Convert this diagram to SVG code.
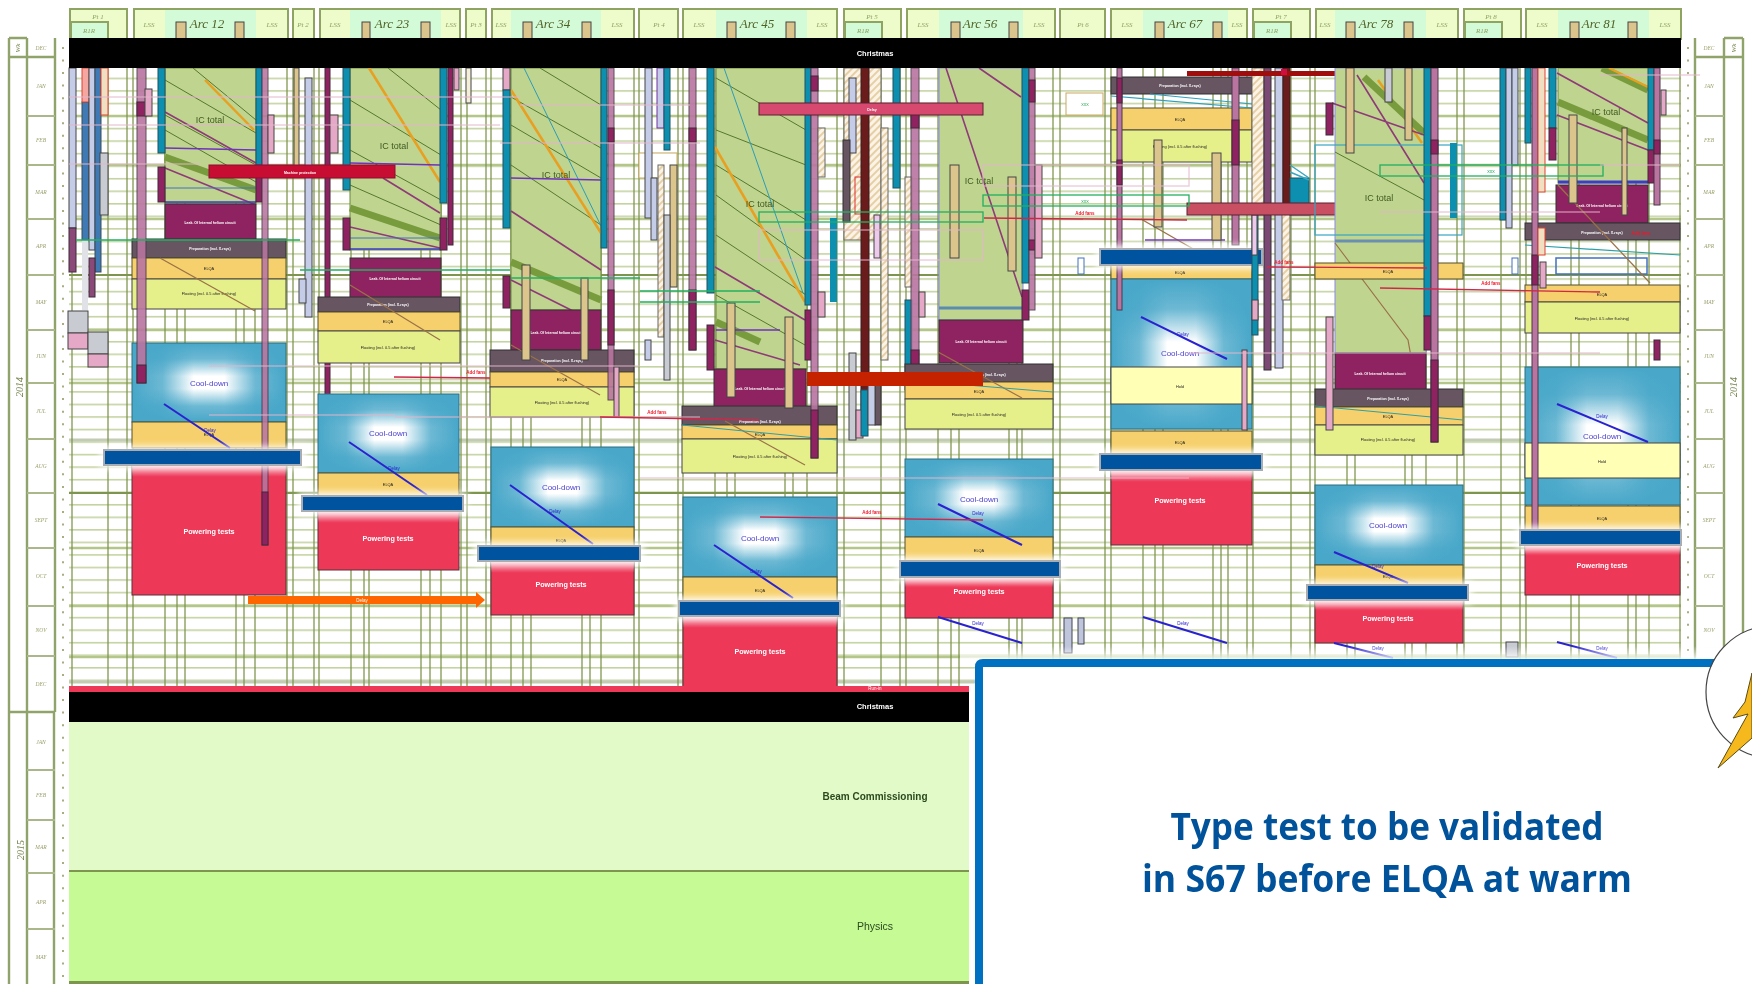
<svg xmlns="http://www.w3.org/2000/svg" width="1752" height="984" viewBox="0 0 1752 984">
<style>
text{font-family:"Liberation Sans",Arial,sans-serif}
.ct{font-family:"Open Sans","Liberation Sans",sans-serif;font-size:37px;font-weight:700;fill:#00529B;text-anchor:middle}
.hd{fill:#EEFBCB;stroke:#8FA363;stroke-width:2}
.ar{fill:#D4FBD8;stroke:none}
.ht{font:italic 7px "Liberation Serif",serif;fill:#8FA363;text-anchor:middle}
.at{font:italic 13px "Liberation Serif",serif;fill:#4F6228;text-anchor:middle}
.mo{font:italic 5.5px "Liberation Serif",serif;fill:#9A9F6A;text-anchor:middle}
.yr{font:italic 10px "Liberation Serif",serif;fill:#6F7F45;text-anchor:middle}
.ic{fill:#BFD48F;stroke:#6B8A3A;stroke-width:1}
.lk{fill:#8F2461;stroke:#333;stroke-width:1}
.pr{fill:#675562;stroke:#333;stroke-width:1}
.qa{fill:#F6D06C;stroke:#55502A;stroke-width:1}
.fl{fill:#E6F08A;stroke:#444;stroke-width:1}
.by{fill:#FFFFB5;stroke:#444;stroke-width:1}
.cb{fill:none;stroke:#2E6E80;stroke-width:1}
.rd{fill:#EE3958;stroke:#5A3038;stroke-width:1}
.bb{fill:#00529F;stroke:#A8ADB4;stroke-width:2}
.gl{fill:#fff;filter:url(#soft);opacity:.85}
.fd{fill:url(#fade)}
.dl{stroke:#2A22D0;stroke-width:2;fill:none}
.g{stroke:#55782E;stroke-width:1;fill:none}
.ob{stroke:#789C3C;stroke-width:7;fill:none}
.or{stroke:#E8A020;stroke-width:2.5;fill:none}
.mr{stroke:#8F3A78;stroke-width:1.6;fill:none}
.pl{stroke:#7030C0;stroke-width:1.5;fill:none}
.bn{stroke:#9A7248;stroke-width:1.2;fill:none}
.tl{stroke:#2C9DB8;stroke-width:1;fill:none}
.te{fill:#0A8FB0;stroke:#24505E;stroke-width:1}
.pu{fill:#8F2461;stroke:#3E2A3A;stroke-width:1}
.pp{fill:#B975A0;stroke:#4A3A48;stroke-width:1}
.la{fill:#C5CCE8;stroke:#444;stroke-width:1}
.be{fill:#DCC58C;stroke:#444;stroke-width:1}
.ha{fill:url(#hatch);stroke:#666;stroke-width:1}
.pk{fill:#E5A9C7;stroke:#444;stroke-width:1}
.gy{fill:#C9CBD3;stroke:#444;stroke-width:1}
.bl{fill:#3F7AB5;stroke:#3A4A5A;stroke-width:1}
.ma{fill:#6B1A1E;stroke:#3A1A1A;stroke-width:1}
.cd{font-size:8px;fill:#4A3FD0;text-anchor:middle}
.pw{font-size:7.2px;font-weight:bold;fill:#fff;text-anchor:middle}
.tq{font-size:3.9px;fill:#222;text-anchor:middle}
.tw{font-size:3.5px;font-weight:bold;fill:#fff;text-anchor:middle}
.tt{font-size:9px;fill:#3F5A1F;text-anchor:middle}
.dt{font-size:4.5px;fill:#2A22D0;text-anchor:middle}
.af{font-size:4.5px;font-weight:bold;fill:#F01828;text-anchor:middle}
.pkl{fill:none;stroke:#E4B7CB;stroke-width:1.5;stroke-opacity:.65}
.grn{fill:none;stroke:#22B060;stroke-width:1.3}
.red{fill:none;stroke:#D0284A;stroke-width:1.3}
.tlb{fill:none;stroke:#38A6C4;stroke-width:1.2}
</style>
<defs>
<pattern id="weeks" patternUnits="userSpaceOnUse" x="0" y="67" width="20" height="12.54"><rect y="10.6" width="20" height="1.6" fill="#C4D3A2"/></pattern>
<pattern id="hatch" patternUnits="userSpaceOnUse" width="5" height="5" patternTransform="rotate(45)"><rect width="5" height="5" fill="#FBF4E6"/><rect width="2" height="5" fill="#E6CFA4"/></pattern>
<linearGradient id="ch"><stop offset="0" stop-color="#48A7C9"/><stop offset=".2" stop-color="#48A7C9" stop-opacity=".8"/><stop offset=".4" stop-color="#48A7C9" stop-opacity="0"/><stop offset=".6" stop-color="#48A7C9" stop-opacity="0"/><stop offset=".8" stop-color="#48A7C9" stop-opacity=".8"/><stop offset="1" stop-color="#48A7C9"/></linearGradient>
<linearGradient id="cv" x2="0" y2="1"><stop offset="0" stop-color="#48A7C9"/><stop offset=".2" stop-color="#48A7C9" stop-opacity=".8"/><stop offset=".42" stop-color="#48A7C9" stop-opacity="0"/><stop offset=".58" stop-color="#48A7C9" stop-opacity="0"/><stop offset=".8" stop-color="#48A7C9" stop-opacity=".8"/><stop offset="1" stop-color="#48A7C9"/></linearGradient>
<linearGradient id="fade" x2="0" y2="1"><stop offset="0" stop-color="#fff" stop-opacity=".6"/><stop offset="1" stop-color="#fff" stop-opacity="0"/></linearGradient>
<linearGradient id="top" x2="0" y2="1"><stop offset="0" stop-color="#fff" stop-opacity="0"/><stop offset="1" stop-color="#fff" stop-opacity=".9"/></linearGradient>
<filter id="soft" x="-10%" y="-60%" width="120%" height="220%"><feGaussianBlur stdDeviation="3"/></filter>
<filter id="fuzz" x="-2%" y="-2%" width="104%" height="104%"><feGaussianBlur stdDeviation=".7"/></filter>
<symbol id="cool" viewBox="0 0 100 100" preserveAspectRatio="none"><rect width="100" height="100" fill="#fff"/><rect width="100" height="100" fill="url(#ch)"/><rect width="100" height="100" fill="url(#cv)"/></symbol>
</defs>
<rect width="1752" height="984" fill="#fff"/>
<g id="chart" filter="url(#fuzz)">
<g id="grid">
<rect x="69" y="68" width="1612" height="620" fill="url(#weeks)"/>
<path d="M69 116H1681M69 165H1681M69 219H1681M69 330H1681M69 383H1681M69 548H1681M69 606H1681M69 657H1681" stroke="#B4C68A" stroke-width="2.4" fill="none"/>
<path d="M69 275H1681M69 493H1681" stroke="#7E9550" stroke-width="1.8" fill="none"/>
<path d="M69 440H1681M69 682H1681" stroke="#C4CBB4" stroke-width="3" fill="none"/>
<path d="M72 68V688M108 68V688M127 68V688M133 68V688M165 68V688M177 68V688M185 68V688M236 68V688M244 68V688M255 68V688M287 68V688M293 68V688M314 68V688M319 68V688M351 68V688M364 68V688M369 68V688M421 68V688M430 68V688M441 68V688M461 68V688M467 68V688M486 68V688M491 68V688M511 68V688M523 68V688M531 68V688M582 68V688M590 68V688M601 68V688M634 68V688M639 68V688M678 68V688M683 68V688M715 68V688M727 68V688M735 68V688M785 68V688M793 68V688M807 68V688M837 68V688M844 68V688M881 68V688M900 68V688M906 68V688M938 68V688M951 68V688M959 68V688M1009 68V688M1017 68V688M1022 68V688M1053 68V688M1060 68V688M1105 68V688M1111 68V688M1143 68V688M1155 68V688M1163 68V688M1213 68V688M1221 68V688M1228 68V688M1247 68V688M1253 68V688M1291 68V688M1310 68V688M1315 68V688M1347 68V688M1355 68V688M1405 68V688M1412 68V688M1426 68V688M1457 68V688M1464 68V688M1501 68V688M1520 68V688M1526 68V688M1571 68V688M1579 68V688M1628 68V688M1636 68V688M1649 68V688M1680 68V688" stroke="#7E9550" stroke-width="1.5" stroke-opacity=".85" fill="none"/>
</g>
<g id="calendar-left">
<path d="M9 38V984M27 38V984M55 38V712M54 712V984M9 38H27M9 57H55M9 712H55" stroke="#8FA36A" stroke-width="2.4" fill="none"/>
<path d="M27 116H55M27 165H55M27 219H55M27 275H55M27 330H55M27 383H55M27 439H55M27 493H55M27 548H55M27 606H55M27 656H55M27 770H55M27 820H55M27 873H55M27 929H55" stroke="#A9B78A" stroke-width="1.8" fill="none"/>
<path d="M63 47V984" stroke="#A9AD80" stroke-width="2" stroke-dasharray="2 10.54" fill="none"/>
<text class="yr" x="18" y="50" transform="rotate(-90 18 48)" style="font-size:7px">Wk</text>
<text class="yr" transform="rotate(-90 20 387)" x="20" y="390">2014</text>
<text class="yr" transform="rotate(-90 21 850)" x="21" y="853">2015</text>
<text class="mo" x="41" y="50">DEC</text><text class="mo" x="41" y="88">JAN</text><text class="mo" x="41" y="142">FEB</text><text class="mo" x="41" y="194">MAR</text><text class="mo" x="41" y="248">APR</text><text class="mo" x="41" y="304">MAY</text><text class="mo" x="41" y="358">JUN</text><text class="mo" x="41" y="413">JUL</text><text class="mo" x="41" y="468">AUG</text><text class="mo" x="41" y="522">SEPT</text><text class="mo" x="41" y="578">OCT</text><text class="mo" x="41" y="632">NOV</text><text class="mo" x="41" y="686">DEC</text><text class="mo" x="41" y="744">JAN</text><text class="mo" x="41" y="797">FEB</text><text class="mo" x="41" y="849">MAR</text><text class="mo" x="41" y="904">APR</text><text class="mo" x="41" y="959">MAY</text>
</g>
<g id="calendar-right">
<path d="M1695 38V660M1724 38V660M1743 38V660M1724 38H1743M1695 57H1743" stroke="#8FA36A" stroke-width="2.4" fill="none"/>
<path d="M1695 116H1724M1695 165H1724M1695 219H1724M1695 275H1724M1695 330H1724M1695 383H1724M1695 439H1724M1695 493H1724M1695 548H1724M1695 606H1724" stroke="#A9B78A" stroke-width="1.8" fill="none"/>
<path d="M1688 47V660" stroke="#A9AD80" stroke-width="2" stroke-dasharray="2 10.54" fill="none"/>
<text class="yr" x="1734" y="50" transform="rotate(-90 1734 48)" style="font-size:7px">Wk</text>
<text class="yr" transform="rotate(-90 1734 387)" x="1734" y="390">2014</text>
<text class="mo" x="1709" y="50">DEC</text><text class="mo" x="1709" y="88">JAN</text><text class="mo" x="1709" y="142">FEB</text><text class="mo" x="1709" y="194">MAR</text><text class="mo" x="1709" y="248">APR</text><text class="mo" x="1709" y="304">MAY</text><text class="mo" x="1709" y="358">JUN</text><text class="mo" x="1709" y="413">JUL</text><text class="mo" x="1709" y="468">AUG</text><text class="mo" x="1709" y="522">SEPT</text><text class="mo" x="1709" y="578">OCT</text><text class="mo" x="1709" y="632">NOV</text>
</g>
<g id="header">
<rect class="hd" x="70" y="9" width="57" height="30"/><rect class="hd" x="71" y="22" width="37" height="17" style="fill:#D4FBD8"/><text class="ht" x="98" y="19">Pt 1</text><text class="ht" x="89" y="33">R1R</text>
<rect class="hd" x="134" y="9" width="154" height="30"/><rect class="ar" x="165" y="10" width="91" height="28"/><text class="ht" x="149" y="27">LSS</text><text class="at" x="207" y="28">Arc 12</text><text class="ht" x="272" y="27">LSS</text><rect class="be" x="176" y="22" width="10" height="17"/><rect class="be" x="235" y="22" width="9" height="17"/>
<rect class="hd" x="293" y="9" width="21" height="30"/><text class="ht" x="303" y="27">Pt 2</text>
<rect class="hd" x="320" y="9" width="140" height="30"/><rect class="ar" x="350" y="10" width="91" height="28"/><text class="ht" x="335" y="27">LSS</text><text class="at" x="392" y="28">Arc 23</text><text class="ht" x="451" y="27">LSS</text><rect class="be" x="362" y="22" width="8" height="17"/><rect class="be" x="421" y="22" width="9" height="17"/>
<rect class="hd" x="466" y="9" width="20" height="30"/><text class="ht" x="476" y="27">Pt 3</text>
<rect class="hd" x="492" y="9" width="142" height="30"/><rect class="ar" x="511" y="10" width="90" height="28"/><text class="ht" x="501" y="27">LSS</text><text class="at" x="553" y="28">Arc 34</text><text class="ht" x="617" y="27">LSS</text><rect class="be" x="523" y="22" width="9" height="17"/><rect class="be" x="582" y="22" width="9" height="17"/>
<rect class="hd" x="639" y="9" width="39" height="30"/><text class="ht" x="659" y="27">Pt 4</text>
<rect class="hd" x="683" y="9" width="154" height="30"/><rect class="ar" x="716" y="10" width="91" height="28"/><text class="ht" x="699" y="27">LSS</text><text class="at" x="757" y="28">Arc 45</text><text class="ht" x="822" y="27">LSS</text><rect class="be" x="727" y="22" width="9" height="17"/><rect class="be" x="786" y="22" width="9" height="17"/>
<rect class="hd" x="844" y="9" width="57" height="30"/><rect class="hd" x="845" y="22" width="37" height="17" style="fill:#D4FBD8"/><text class="ht" x="872" y="19">Pt 5</text><text class="ht" x="863" y="33">R1R</text>
<rect class="hd" x="907" y="9" width="148" height="30"/><rect class="ar" x="939" y="10" width="84" height="28"/><text class="ht" x="923" y="27">LSS</text><text class="at" x="980" y="28">Arc 56</text><text class="ht" x="1039" y="27">LSS</text><rect class="be" x="951" y="22" width="9" height="17"/><rect class="be" x="1009" y="22" width="9" height="17"/>
<rect class="hd" x="1060" y="9" width="45" height="30"/><text class="ht" x="1083" y="27">Pt 6</text>
<rect class="hd" x="1111" y="9" width="136" height="30"/><rect class="ar" x="1143" y="10" width="85" height="28"/><text class="ht" x="1127" y="27">LSS</text><text class="at" x="1185" y="28">Arc 67</text><text class="ht" x="1237" y="27">LSS</text><rect class="be" x="1155" y="22" width="9" height="17"/><rect class="be" x="1213" y="22" width="9" height="17"/>
<rect class="hd" x="1253" y="9" width="57" height="30"/><rect class="hd" x="1254" y="22" width="37" height="17" style="fill:#D4FBD8"/><text class="ht" x="1281" y="19">Pt 7</text><text class="ht" x="1272" y="33">R1R</text>
<rect class="hd" x="1316" y="9" width="142" height="30"/><rect class="ar" x="1335" y="10" width="91" height="28"/><text class="ht" x="1325" y="27">LSS</text><text class="at" x="1376" y="28">Arc 78</text><text class="ht" x="1442" y="27">LSS</text><rect class="be" x="1346" y="22" width="9" height="17"/><rect class="be" x="1404" y="22" width="9" height="17"/>
<rect class="hd" x="1464" y="9" width="57" height="30"/><rect class="hd" x="1465" y="22" width="37" height="17" style="fill:#D4FBD8"/><text class="ht" x="1491" y="19">Pt 8</text><text class="ht" x="1482" y="33">R1R</text>
<rect class="hd" x="1526" y="9" width="155" height="30"/><rect class="ar" x="1558" y="10" width="91" height="28"/><text class="ht" x="1542" y="27">LSS</text><text class="at" x="1599" y="28">Arc 81</text><text class="ht" x="1665" y="27">LSS</text><rect class="be" x="1570" y="22" width="9" height="17"/><rect class="be" x="1628" y="22" width="9" height="17"/>
</g>
<g id="point-1">
<rect class="la" x="69" y="68" width="7" height="160"/><rect class="pu" x="69" y="228" width="7" height="44" style="fill:#8A4A78"/>
<rect class="bl" x="82" y="102" width="7" height="138"/><rect x="82" y="68" width="7" height="34" fill="#F4A7A0" stroke="#E04030"/>
<rect class="la" x="89" y="68" width="6" height="182"/><rect class="bl" x="95" y="68" width="6" height="204"/>
<rect x="101" y="68" width="7" height="47" fill="#F0DFC0" stroke="#E04030"/><rect class="gy" x="100" y="153" width="8" height="62"/>
<rect x="82" y="240" width="6" height="70" fill="#E0E2E8"/><rect class="pu" x="89" y="258" width="6" height="39" style="fill:#8A4A78"/>
<rect class="gy" x="68" y="311" width="20" height="22"/><rect class="pk" x="68" y="333" width="20" height="16"/><rect class="gy" x="88" y="332" width="20" height="22"/><rect class="pk" x="88" y="354" width="20" height="13"/>
</g>
<g id="arc-12">
<rect class="ic" x="165" y="68" width="91" height="135"/>
<path class="g" d="M193 68L256 120M165 80L256 133M165 115L256 165M165 130L256 182"/><path class="or" d="M205 80L254 130"/><path class="mr" d="M165 112L256 163M165 168L256 205"/><path class="ob" d="M165 157L256 190"/><path class="pl" d="M165 148L256 150"/><path d="M165 188H256" stroke="#4070C0" fill="none"/><path d="M165 202H256" stroke="#3C3CC8" stroke-width="1.5"/>
<text class="tt" x="210" y="123">IC total</text>
<rect class="lk" x="165" y="204" width="91" height="36"/><text class="tw" x="210" y="224">Leak. Of Internal helium circuit</text>
<rect class="pr" x="132" y="239" width="154" height="19"/><text class="tw" x="210" y="250">Preparation (incl. X-rays)</text>
<rect class="qa" x="132" y="258" width="154" height="21"/><text class="tq" x="209" y="270">ELQA</text>
<rect class="fl" x="132" y="279" width="154" height="30"/><text class="tq" x="209" y="295">Floating (incl. 0.5 after flushing)</text>
<path class="bn" d="M160 258L255 311"/>
<use href="#cool" x="132" y="343" width="154" height="79"/><rect class="cb" x="132" y="343" width="154" height="79"/><text class="cd" x="209" y="386">Cool-down</text>
<rect class="qa" x="132" y="422" width="154" height="26"/><text class="tq" x="209" y="436">ELQA</text>
<rect class="rd" x="132" y="465" width="154" height="130"/><rect class="fd" x="132" y="465" width="154" height="12"/><text class="pw" x="209" y="534">Powering tests</text>
<path class="dl" d="M164 404L230 448"/><text class="dt" x="210" y="432">Delay</text>
<rect class="pp" x="137" y="68" width="9" height="315" opacity=".9"/><rect class="pu" x="137" y="102" width="9" height="14"/><rect class="pu" x="137" y="365" width="9" height="18"/>
<rect class="pk" x="145" y="89" width="7" height="27"/>
<rect class="te" x="158" y="68" width="7" height="85"/><rect class="pu" x="158" y="167" width="7" height="35"/>
<rect class="te" x="256" y="68" width="6" height="97"/><rect class="pu" x="256" y="167" width="6" height="35"/>
<rect class="pp" x="262" y="68" width="6" height="477" opacity=".88"/><rect class="pu" x="262" y="492" width="6" height="53"/>
<rect class="pk" x="268" y="115" width="6" height="38"/>
<rect class="gl" x="100" y="446" width="206" height="23"/><rect class="bb" x="104" y="450" width="197" height="15"/>
<rect x="248" y="596" width="228" height="8" fill="#FF6600"/><path d="M476 592L485 600L476 608Z" fill="#FF6600"/><text x="362" y="602" font-size="4.5" fill="#fff" text-anchor="middle">Delay</text>
</g>
<g id="point-2">
<rect class="be" x="294" y="68" width="5" height="107"/><rect class="la" x="305" y="78" width="7" height="239"/><rect class="la" x="299" y="279" width="7" height="24"/>
<rect class="pu" x="325" y="68" width="5" height="342"/><rect class="pk" x="330" y="115" width="8" height="38"/>
</g>
<g id="arc-23">
<rect class="ic" x="350" y="68" width="91" height="182"/>
<path class="g" d="M388 68L441 110M350 100L441 155M350 150L441 200M350 185L441 225"/><path class="or" d="M369 68L440 182"/><path class="mr" d="M383 178L440 213M350 227L440 248"/><path class="ob" d="M350 208L440 238"/><path class="pl" d="M350 163L440 165"/><path d="M350 238H441" stroke="#4070C0"/><path d="M350 249H441" stroke="#3C3CC8" stroke-width="1.5"/>
<text class="tt" x="394" y="149">IC total</text>
<rect class="lk" x="350" y="258" width="91" height="40"/><text class="tw" x="395" y="280">Leak. Of Internal helium circuit</text>
<rect class="pr" x="318" y="297" width="142" height="15"/><text class="tw" x="388" y="306">Preparation (incl. X-rays)</text>
<rect class="qa" x="318" y="312" width="142" height="19"/><text class="tq" x="388" y="323">ELQA</text>
<rect class="fl" x="318" y="331" width="142" height="32"/><text class="tq" x="388" y="349">Floating (incl. 0.5 after flushing)</text>
<path class="bn" d="M350 285L440 340"/>
<use href="#cool" x="318" y="394" width="141" height="79"/><rect class="cb" x="318" y="394" width="141" height="79"/><text class="cd" x="388" y="436">Cool-down</text>
<rect class="qa" x="318" y="473" width="141" height="23"/><text class="tq" x="388" y="486">ELQA</text>
<rect class="rd" x="318" y="511" width="141" height="59"/><rect class="fd" x="318" y="511" width="141" height="12"/><text class="pw" x="388" y="541">Powering tests</text>
<path class="dl" d="M349 442L427 495"/><text class="dt" x="394" y="470">Delay</text>
<rect class="te" x="343" y="68" width="7" height="122"/><rect class="pu" x="343" y="218" width="7" height="32"/>
<rect class="te" x="440" y="68" width="7" height="135"/><rect class="pu" x="440" y="218" width="7" height="32"/>
<rect class="pu" x="448" y="68" width="5" height="177"/><rect class="pk" x="454" y="68" width="5" height="22"/>
<rect class="be" x="466" y="68" width="5" height="35" style="fill:#F5EFD8"/>
<rect class="gl" x="298" y="492" width="169" height="23"/><rect class="bb" x="302" y="496" width="161" height="15"/>
</g>
<g id="arc-34">
<rect class="ic" x="511" y="68" width="90" height="242"/>
<path class="g" d="M511 97L601 148M511 125L601 178M511 165L601 225M540 68L601 105"/><path class="or" d="M511 90L601 233"/><path class="tl" d="M524 68L601 226"/><path class="mr" d="M511 211L601 270M511 280L601 325"/><path class="ob" d="M511 262L601 300"/><path class="pl" d="M511 178L601 180"/>
<text class="tt" x="556" y="178">IC total</text>
<rect class="lk" x="511" y="310" width="90" height="40"/><text class="tw" x="556" y="334">Leak. Of Internal helium circuit</text>
<rect class="pr" x="490" y="350" width="144" height="22"/><text class="tw" x="562" y="362">Preparation (incl. X-rays)</text>
<rect class="qa" x="490" y="372" width="144" height="15"/><text class="tq" x="562" y="381">ELQA</text>
<rect class="fl" x="490" y="387" width="144" height="30"/><text class="tq" x="562" y="404">Floating (incl. 0.5 after flushing)</text>
<path class="bn" d="M511 345L600 395"/>
<use href="#cool" x="491" y="447" width="143" height="80"/><rect class="cb" x="491" y="447" width="143" height="80"/><text class="cd" x="561" y="490">Cool-down</text>
<rect class="qa" x="491" y="527" width="143" height="19"/><text class="tq" x="561" y="542">ELQA</text>
<rect class="rd" x="491" y="561" width="143" height="54"/><rect class="fd" x="491" y="561" width="143" height="12"/><text class="pw" x="561" y="587">Powering tests</text>
<path class="dl" d="M510 485L593 544"/><text class="dt" x="555" y="513">Delay</text>
<rect class="pk" x="503" y="68" width="7" height="22"/><rect class="te" x="503" y="90" width="7" height="138"/><rect class="pu" x="503" y="276" width="7" height="32"/>
<rect class="be" x="522" y="265" width="8" height="95"/><rect class="be" x="581" y="278" width="7" height="82"/>
<rect class="te" x="601" y="68" width="6" height="180"/><rect class="pp" x="608" y="68" width="6" height="332" opacity=".9"/><rect class="pu" x="608" y="128" width="6" height="14"/><rect class="pu" x="608" y="290" width="6" height="55"/>
<rect class="pk" x="614" y="367" width="5" height="50"/>
<rect class="gl" x="474" y="542" width="170" height="23"/><rect class="bb" x="478" y="546" width="162" height="15"/>
</g>
<g id="point-4">
<rect x="639" y="153" width="38" height="25" fill="#fff" stroke="#C9A860"/>
<rect class="la" x="645" y="68" width="7" height="150"/><rect class="la" x="651" y="178" width="6" height="62"/><rect class="la" x="657" y="68" width="7" height="60" style="stroke:#7030A0"/><rect class="te" x="664" y="68" width="6" height="82"/>
<rect class="ha" x="658" y="165" width="6" height="172"/><rect class="be" x="670" y="165" width="7" height="122"/><rect class="gy" x="664" y="215" width="6" height="165"/>
<rect class="la" x="645" y="340" width="6" height="20"/>
</g>
<g id="arc-45">
<rect class="ic" x="716" y="68" width="91" height="301"/>
<path class="g" d="M716 78L806 130M716 130L806 165M716 165L806 220M716 195L806 260M716 235L806 295M716 295L805 345"/><path class="or" d="M715 147L805 302"/><path class="tl" d="M724 68L803 293"/><path class="mr" d="M715 267L805 320M715 340L800 365"/><path class="ob" d="M716 322L760 342"/><path class="pl" d="M716 330H780"/>
<text class="tt" x="760" y="207">IC total</text>
<rect class="lk" x="714" y="369" width="92" height="40"/><text class="tw" x="760" y="390">Leak. Of Internal helium circuit</text>
<rect class="pr" x="682" y="406" width="155" height="19"/><text class="tw" x="760" y="423">Preparation (incl. X-rays)</text>
<rect class="qa" x="682" y="425" width="155" height="14"/><text class="tq" x="760" y="436">ELQA</text>
<rect class="fl" x="682" y="439" width="155" height="34"/><text class="tq" x="760" y="458">Floating (incl. 0.5 after flushing)</text>
<path class="bn" d="M725 421L805 465"/><path d="M682 425L837 440" stroke="#2CA0A8" fill="none"/>
<use href="#cool" x="683" y="497" width="154" height="80"/><rect class="cb" x="683" y="497" width="154" height="80"/><text class="cd" x="760" y="541">Cool-down</text>
<rect class="qa" x="683" y="577" width="154" height="24"/><text class="tq" x="760" y="592">ELQA</text>
<rect class="rd" x="683" y="616" width="154" height="72"/><rect class="fd" x="683" y="616" width="154" height="12"/><text class="pw" x="760" y="654">Powering tests</text>
<path class="dl" d="M714 545L793 598"/><text class="dt" x="756" y="573">Delay</text>
<rect class="pp" x="689" y="68" width="7" height="282" opacity=".9"/><rect class="pu" x="689" y="128" width="7" height="14"/><rect class="pu" x="689" y="290" width="7" height="60"/>
<rect class="te" x="707" y="68" width="7" height="225"/><rect class="pu" x="707" y="325" width="7" height="45"/>
<rect class="be" x="727" y="303" width="8" height="94"/><rect class="be" x="785" y="317" width="8" height="91"/>
<rect class="te" x="805" y="68" width="6" height="237"/><rect class="pu" x="805" y="310" width="6" height="50"/>
<rect class="pp" x="811" y="68" width="7" height="390" opacity=".9"/><rect class="pu" x="811" y="76" width="7" height="15"/><rect class="pu" x="811" y="410" width="7" height="48"/>
<rect class="ha" x="818" y="128" width="7" height="49"/><rect class="pk" x="818" y="292" width="7" height="25"/>
<rect class="te" x="830" y="218" width="7" height="84" style="stroke:none"/>
<rect class="gl" x="675" y="597" width="169" height="23"/><rect class="bb" x="679" y="601" width="161" height="15"/>
</g>
<g id="point-5">
<rect class="ha" x="844" y="68" width="37" height="172"/>
<rect class="la" x="849" y="78" width="7" height="75"/><rect class="pr" x="843" y="140" width="7" height="82"/>
<rect x="855" y="177" width="7" height="37" fill="none" stroke="#E03030"/>
<rect class="ma" x="861" y="68" width="8" height="350"/>
<rect class="pk" x="874" y="215" width="6" height="43" style="fill:#EDC9EC"/><rect class="ha" x="881" y="128" width="7" height="232"/>
<rect class="te" x="893" y="68" width="7" height="120"/><rect class="ha" x="905" y="177" width="7" height="110"/><rect class="te" x="905" y="300" width="7" height="90"/>
<rect class="gy" x="849" y="353" width="7" height="87"/><rect class="pk" x="856" y="410" width="7" height="28"/><rect class="te" x="861" y="390" width="7" height="46"/><rect class="pr" x="875" y="385" width="6" height="40"/><rect class="la" x="868" y="385" width="7" height="40"/>
<rect class="pp" x="911" y="68" width="8" height="325" opacity=".9"/><rect class="pu" x="911" y="110" width="8" height="18"/><rect class="pu" x="911" y="350" width="8" height="43"/><rect class="pk" x="919" y="292" width="6" height="25"/>
</g>
<g id="arc-56">
<rect class="ic" x="939" y="68" width="84" height="252" style="stroke:#8A8AE0"/>
<path d="M939 308H1023" stroke="#5B8BB0" stroke-width="3"/>
<path class="mr" d="M946 68L1022 297M979 68L1021 97"/>
<text class="tt" x="979" y="184">IC total</text>
<rect class="lk" x="939" y="320" width="84" height="43"/><text class="tw" x="981" y="343">Leak. Of Internal helium circuit</text>
<rect class="pr" x="905" y="364" width="148" height="18"/><text class="tw" x="985" y="376">Preparation (incl. X-rays)</text>
<rect class="qa" x="905" y="382" width="148" height="17"/><text class="tq" x="979" y="393">ELQA</text>
<rect class="fl" x="905" y="399" width="148" height="30"/><text class="tq" x="979" y="416">Floating (incl. 0.5 after flushing)</text>
<path class="bn" d="M938 352L1022 398"/><path d="M905 380L1053 392" stroke="#2CA0A8" fill="none"/>
<use href="#cool" x="905" y="459" width="148" height="78"/><rect class="cb" x="905" y="459" width="148" height="78"/><text class="cd" x="979" y="502">Cool-down</text>
<rect class="qa" x="905" y="537" width="148" height="24"/><text class="tq" x="979" y="552">ELQA</text>
<rect class="rd" x="905" y="577" width="148" height="41"/><rect class="fd" x="905" y="577" width="148" height="10"/><text class="pw" x="979" y="594">Powering tests</text>
<path class="dl" d="M938 504L1022 545M938 617L1022 643"/><text class="dt" x="978" y="515">Delay</text><text class="dt" x="978" y="625">Delay</text>
<rect class="be" x="950" y="165" width="9" height="93"/><rect class="be" x="1008" y="177" width="8" height="94"/>
<rect class="te" x="1022" y="68" width="7" height="215"/><rect class="pu" x="1022" y="290" width="7" height="30"/>
<rect class="pp" x="1029" y="68" width="6" height="242" opacity=".9"/><rect class="pu" x="1029" y="80" width="6" height="22"/><rect class="pu" x="1029" y="240" width="6" height="10"/>
<rect class="pk" x="1035" y="165" width="7" height="93"/>
<rect class="gl" x="896" y="557" width="168" height="24"/><rect class="bb" x="900" y="561" width="160" height="16"/>
</g>
<g id="point-6">
<rect x="1066" y="93" width="37" height="22" fill="#fff" stroke="#C9A860"/><text x="1085" y="106" font-size="5" fill="#3CB060" text-anchor="middle">xxx</text>
<rect x="1078" y="258" width="6" height="16" fill="#fff" stroke="#4070C0"/>
</g>
<g id="arc-67">
<rect class="pr" x="1111" y="77" width="141" height="17"/><text class="tw" x="1180" y="87">Preparation (incl. X-rays)</text>
<rect class="qa" x="1111" y="108" width="141" height="22"/><text class="tq" x="1180" y="121">ELQA</text>
<rect class="fl" x="1111" y="130" width="141" height="32"/><text class="tq" x="1180" y="148">Floating (incl. 0.5 after flushing)</text>
<path d="M1111 96L1252 108M1150 94L1252 104" stroke="#2CA0C0" stroke-width="1.2" fill="none"/><path class="bn" d="M1141 219L1230 270"/><path class="pl" d="M1145 240H1225"/>
<rect class="qa" x="1111" y="265" width="141" height="14"/><text class="tq" x="1180" y="274">ELQA</text>
<use href="#cool" x="1111" y="279" width="141" height="150"/><rect class="cb" x="1111" y="279" width="141" height="150"/><text class="cd" x="1180" y="356">Cool-down</text>
<rect class="by" x="1111" y="367" width="141" height="37"/><text class="tq" x="1180" y="388">Hold</text>
<rect class="qa" x="1111" y="431" width="141" height="24"/><text class="tq" x="1180" y="444">ELQA</text>
<rect class="rd" x="1111" y="470" width="141" height="75"/><rect class="fd" x="1111" y="470" width="141" height="12"/><text class="pw" x="1180" y="503">Powering tests</text>
<path class="dl" d="M1141 317L1227 359M1143 617L1227 643"/><text class="dt" x="1183" y="336">Delay</text><text class="dt" x="1183" y="625">Delay</text>
<rect class="pp" x="1117" y="68" width="5" height="242"/><rect class="pu" x="1117" y="78" width="5" height="25"/><rect class="pu" x="1117" y="160" width="5" height="25"/>
<rect class="be" x="1154" y="140" width="8" height="87"/><rect class="be" x="1212" y="153" width="9" height="87"/>
<rect class="pp" x="1232" y="68" width="7" height="177"/><rect class="pu" x="1232" y="120" width="7" height="45"/>
<rect class="pk" x="1242" y="350" width="5" height="80"/>
<rect class="gl" x="1096" y="245" width="170" height="24"/><rect class="bb" x="1100" y="249" width="162" height="16"/>
<rect class="gl" x="1096" y="450" width="170" height="24"/><rect class="bb" x="1100" y="454" width="162" height="16"/>
</g>
<g id="point-7">
<rect class="ha" x="1252" y="68" width="12" height="147"/><rect class="te" x="1252" y="215" width="6" height="120"/><rect class="pk" x="1252" y="215" width="5" height="40" style="fill:#EDC9EC"/><rect class="pk" x="1252" y="300" width="6" height="20"/>
<rect class="pr" x="1264" y="68" width="7" height="302" style="fill:#7B4A74"/><rect class="la" x="1275" y="68" width="8" height="300"/><rect class="ma" x="1283" y="68" width="7" height="137"/><rect class="ha" x="1282" y="205" width="8" height="95"/>
<rect class="te" x="1290" y="178" width="19" height="37"/><path d="M1290 165L1309 178M1290 172L1309 180" stroke="#38A6C4" stroke-width="1.5" fill="none"/>
<rect x="1187" y="71" width="191" height="5" fill="#A01010"/><rect x="1281" y="69" width="6" height="6" fill="#D01040"/>
<rect x="1187" y="203" width="191" height="12" fill="#C95062" stroke="#5A2030"/>
</g>
<g id="arc-78">
<rect class="ic" x="1335" y="68" width="91" height="285" style="stroke:#8A8AE0"/>
<path class="or" d="M1378 80L1422 143"/><path class="ob" d="M1364 77L1424 133"/><path class="mr" d="M1357 75L1424 183M1332 103L1424 135"/><path class="g" d="M1335 152L1424 200"/><path class="bn" d="M1335 243L1408 340L1425 435"/>
<path d="M1335 241H1426" stroke="#6B8FB0" stroke-width="3"/><path class="pl" d="M1335 266L1426 270"/>
<text class="tt" x="1379" y="201">IC total</text>
<rect class="qa" x="1315" y="263" width="148" height="16"/><text class="tq" x="1388" y="273">ELQA</text>
<rect class="tlb" x="1315" y="145" width="147" height="90"/>
<rect class="lk" x="1335" y="353" width="91" height="38"/><text class="tw" x="1380" y="375">Leak. Of Internal helium circuit</text>
<rect class="pr" x="1315" y="389" width="148" height="18"/><text class="tw" x="1388" y="400">Preparation (incl. X-rays)</text>
<rect class="qa" x="1315" y="407" width="148" height="18"/><text class="tq" x="1388" y="418">ELQA</text>
<rect class="fl" x="1315" y="425" width="148" height="30"/><text class="tq" x="1388" y="441">Floating (incl. 0.5 after flushing)</text>
<path d="M1315 406L1463 420" stroke="#2CA0A8" fill="none"/>
<use href="#cool" x="1315" y="485" width="148" height="80"/><rect class="cb" x="1315" y="485" width="148" height="80"/><text class="cd" x="1388" y="528">Cool-down</text>
<rect class="qa" x="1315" y="565" width="148" height="20"/><text class="tq" x="1388" y="578">ELQA</text>
<rect class="rd" x="1315" y="600" width="148" height="43"/><rect class="fd" x="1315" y="600" width="148" height="10"/><text class="pw" x="1388" y="621">Powering tests</text>
<path class="dl" d="M1334 552L1408 583M1334 643L1393 658"/><text class="dt" x="1378" y="568">Delay</text><text class="dt" x="1378" y="650">Delay</text>
<rect class="pu" x="1326" y="103" width="7" height="32"/><rect class="be" x="1346" y="68" width="8" height="85"/><rect class="be" x="1405" y="68" width="7" height="72"/><rect class="gy" x="1385" y="68" width="7" height="34"/>
<rect class="te" x="1424" y="68" width="7" height="248"/><rect class="pu" x="1424" y="316" width="7" height="34"/>
<rect class="pp" x="1431" y="68" width="7" height="374"/><rect class="pu" x="1431" y="140" width="7" height="14"/><rect class="pu" x="1431" y="360" width="7" height="82"/>
<rect class="pk" x="1326" y="317" width="7" height="113"/>
<rect class="te" x="1450" y="143" width="7" height="75" style="stroke:none"/>
<rect class="gl" x="1303" y="581" width="169" height="23"/><rect class="bb" x="1307" y="585" width="161" height="15"/>
</g>
<g id="point-8">
<rect class="te" x="1500" y="68" width="6" height="152"/><rect class="la" x="1506" y="68" width="6" height="160"/><rect class="la" x="1512" y="68" width="6" height="97"/>
<rect x="1512" y="258" width="6" height="16" fill="#fff" stroke="#4070C0"/><rect class="gy" x="1506" y="642" width="12" height="15"/>
</g>
<g id="arc-81">
<rect class="ic" x="1558" y="68" width="91" height="115"/>
<path class="ob" d="M1558 102L1648 140M1602 68L1648 90"/><path class="or" d="M1609 68L1648 87"/><path class="mr" d="M1557 73L1648 123M1557 115L1648 150"/><path d="M1558 182H1648" stroke="#3C3CC8" stroke-width="3"/>
<text class="tt" x="1606" y="115">IC total</text>
<rect class="lk" x="1556" y="185" width="92" height="38"/><text class="tw" x="1602" y="207">Leak. Of Internal helium circuit</text>
<rect class="pr" x="1525" y="223" width="155" height="17"/><text class="tw" x="1602" y="234">Preparation (incl. X-rays)</text>
<rect class="qa" x="1525" y="285" width="155" height="17"/><text class="tq" x="1602" y="296">ELQA</text>
<rect class="fl" x="1525" y="302" width="155" height="31"/><text class="tq" x="1602" y="320">Floating (incl. 0.5 after flushing)</text>
<rect x="1556" y="258" width="91" height="16" fill="none" stroke="#4070C0" stroke-width="1.5"/><path class="bn" d="M1558 185L1650 283"/><path d="M1525 245L1680 255" stroke="#2CA0A8" stroke-width="1.2" fill="none"/>
<use href="#cool" x="1525" y="367" width="155" height="138"/><rect class="cb" x="1525" y="367" width="155" height="138"/><text class="cd" x="1602" y="439">Cool-down</text>
<rect class="by" x="1525" y="443" width="155" height="35"/><text class="tq" x="1602" y="463">Hold</text>
<rect class="qa" x="1525" y="506" width="155" height="24"/><text class="tq" x="1602" y="520">ELQA</text>
<rect class="rd" x="1525" y="545" width="155" height="50"/><rect class="fd" x="1525" y="545" width="155" height="10"/><text class="pw" x="1602" y="568">Powering tests</text>
<path class="dl" d="M1557 404L1648 442M1557 642L1617 658"/><text class="dt" x="1602" y="418">Delay</text><text class="dt" x="1602" y="650">Delay</text>
<rect class="te" x="1525" y="68" width="6" height="75"/><rect class="pp" x="1532" y="68" width="6" height="462"/><rect class="pu" x="1532" y="255" width="6" height="30"/>
<rect x="1538" y="68" width="7" height="124" fill="#F0DFC0" stroke="#E04030"/><rect x="1538" y="228" width="7" height="27" fill="#F0DFC0" stroke="#E04030"/><rect class="pk" x="1540" y="262" width="6" height="26"/>
<rect class="te" x="1549" y="68" width="7" height="60"/><rect class="pu" x="1549" y="128" width="7" height="32"/>
<rect class="be" x="1569" y="115" width="8" height="88"/><rect class="be" x="1622" y="128" width="5" height="87"/>
<rect class="te" x="1648" y="68" width="6" height="82"/><rect class="pu" x="1648" y="150" width="6" height="33"/>
<rect class="pp" x="1654" y="68" width="6" height="137"/><rect class="pu" x="1654" y="140" width="6" height="14"/><rect class="pu" x="1654" y="340" width="6" height="20"/><rect class="pk" x="1661" y="90" width="5" height="25"/>
<rect class="gl" x="1516" y="526" width="169" height="23"/><rect class="bb" x="1520" y="530" width="161" height="15"/>
</g>
<g id="crossing-links">
<rect x="209" y="165" width="186" height="13" fill="#C80F32" stroke="#8A1030"/><text class="tw" x="300" y="174">Machine protection</text>
<rect x="759" y="103" width="224" height="12" fill="#D74A6E" stroke="#5A2030"/><text class="tw" x="872" y="111">Delay</text>
<rect x="807" y="372" width="176" height="14" fill="#C52305"/>
<rect class="grn" x="759" y="212" width="224" height="10"/><rect class="grn" x="983" y="195" width="206" height="11"/><text x="1085" y="203" font-size="5" fill="#22B060" text-anchor="middle">xxx</text><rect class="grn" x="1380" y="165" width="223" height="11"/><text x="1491" y="173" font-size="5" fill="#22B060" text-anchor="middle">xxx</text>
<path class="grn" d="M76 240H300M300 270H510M511 278H640M640 291H760M640 302H760"/>
<rect class="pkl" x="759" y="230" width="224" height="30"/><rect class="pkl" x="983" y="165" width="206" height="21"/>
<path class="pkl" d="M69 97H520M520 105H690M69 125H500M500 143H700M69 164H200M209 366H640M209 415H395M395 417H700M640 478H1189M1189 353H1600M1380 212H1600M1600 75H1700M1600 165H1680"/>
<path class="red" d="M984 218L1187 220M1267 267L1427 268M1380 288L1600 292M394 377L490 378M600 417L759 420M760 517L983 520"/>
<text class="af" x="1085" y="215">Add fans</text><text class="af" x="1284" y="264">Add fans</text><text class="af" x="1491" y="285">Add fans</text><text class="af" x="1641" y="235">Add fans</text><text class="af" x="476" y="374">Add fans</text><text class="af" x="657" y="414">Add fans</text><text class="af" x="872" y="514">Add fans</text>
<rect x="1078" y="618" width="6" height="26" fill="#BFC6DC" stroke="#445"/><rect x="1064" y="618" width="8" height="35" fill="#BFC6DC" stroke="#445"/>
</g>
<g id="run-2015">
<rect x="69" y="686" width="900" height="6" fill="#EE3958"/>
<rect x="69" y="692" width="900" height="30" fill="#000"/>
<text x="875" y="690" font-size="4.5" fill="#fff" text-anchor="middle">Run-in</text>
<text x="875" y="709" font-size="7.5" font-weight="bold" fill="#fff" text-anchor="middle">Christmas</text>
<rect x="69" y="722" width="900" height="148" fill="#E2FAC8"/>
<rect x="69" y="870" width="900" height="2" fill="#7E9550"/>
<rect x="69" y="872" width="900" height="109" fill="#C5FA95"/>
<rect x="69" y="981" width="900" height="3" fill="#7E9550"/>
<text x="875" y="800" font-size="10" font-weight="bold" fill="#2C4A1E" text-anchor="middle">Beam Commissioning</text>
<text x="875" y="930" font-size="10.5" fill="#2C4A1E" text-anchor="middle">Physics</text>
</g>
<g id="christmas-top">
<rect x="69" y="38" width="1612" height="30" fill="#000"/>
<text x="875" y="56" font-size="7.5" font-weight="bold" fill="#fff" text-anchor="middle">Christmas</text>
</g>
</g>
<g id="callout">
<rect x="960" y="646" width="792" height="14" fill="url(#top)"/>
<path d="M983 984V667H1752V984Z" fill="#fff"/>
<path d="M979 984V667Q979 663 983 663H1752" fill="none" stroke="#0070C0" stroke-width="8"/>
<text class="ct" x="1387" y="840" textLength="433" lengthAdjust="spacingAndGlyphs">Type test to be validated</text>
<text class="ct" x="1387" y="892" textLength="490" lengthAdjust="spacingAndGlyphs">in S67 before ELQA at warm</text>
<circle cx="1772" cy="692" r="66" fill="#fff" stroke="#444" stroke-width="1.2"/>
<path d="M1752 673L1745 702L1733 718L1748 714L1718 768L1752 738V684Z" fill="#F5B91E" stroke="#5A4A14" stroke-width="1"/>
</g>
</svg>
